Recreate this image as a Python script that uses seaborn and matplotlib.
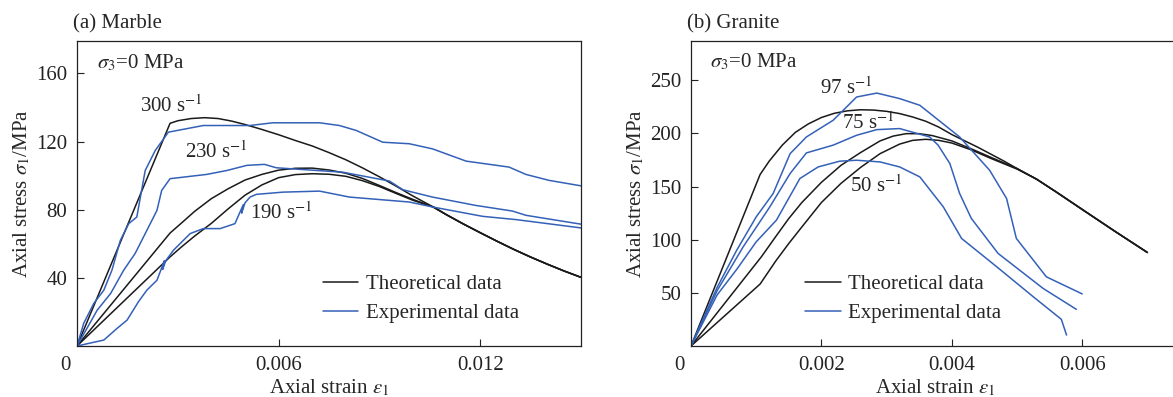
import numpy as np
import pandas as pd
import matplotlib
matplotlib.use('Agg')
import matplotlib.pyplot as plt
from matplotlib.lines import Line2D
import seaborn as sns

sns.set_theme(style='ticks')
plt.rcParams['font.family'] = ['Liberation Serif', 'DejaVu Serif']
plt.rcParams['mathtext.fontset'] = 'stix'

# (a) Marble, strain / stress (MPa)
m_t300_x = [0, 0.00277, 0.003, 0.0034, 0.0038, 0.0042, 0.0046, 0.005, 0.0055, 0.006, 0.0065, 0.007, 0.0075,
            0.008, 0.0085, 0.009, 0.0095, 0.01, 0.0106, 0.011, 0.0115, 0.012, 0.0125, 0.013, 0.0135, 0.014, 0.0145, 0.015]
m_t300_y = [0, 130.7, 132.2, 133.5, 134, 133.5, 132, 130, 127.1, 124, 120.6, 117.4, 113.5,
            109.3, 104.5, 99.3, 93.8, 88, 81.6, 77, 71.6, 66.5, 61.5, 56.7, 52.2, 48, 44, 40.3]
m_t230_x = [0, 0.00277, 0.0031, 0.0035, 0.004, 0.0045, 0.005, 0.0055, 0.006, 0.0065, 0.007, 0.0075, 0.008,
            0.0085, 0.009, 0.0095, 0.01, 0.0106, 0.011, 0.0115, 0.012, 0.0125, 0.013, 0.0135, 0.014, 0.0145, 0.015]
m_t230_y = [0, 66.3, 72, 79, 86.5, 92.3, 97.4, 100.7, 103.2, 104.3, 104.4, 103.3, 101.4,
            98.3, 94.2, 90, 86, 81.6, 77, 71.6, 66.5, 61.5, 56.7, 52.2, 48, 44, 40.3]
m_t190_x = [0, 0.00277, 0.0031, 0.0035, 0.004, 0.0045, 0.005, 0.0055, 0.006, 0.0065, 0.007, 0.0075, 0.008,
            0.0085, 0.009, 0.0095, 0.01, 0.0106, 0.011, 0.0115, 0.012, 0.0125, 0.013, 0.0135, 0.014, 0.0145, 0.015]
m_t190_y = [0, 52.3, 58, 64.5, 72, 80.5, 88.5, 94.5, 98.8, 100.6, 101.1, 100.8, 99.6,
            97, 93.6, 89.5, 85.5, 81.6, 77, 71.6, 66.5, 61.5, 56.7, 52.2, 48, 44, 40.3]

m_e300_x = [0, 0.0002, 0.0005, 0.0008, 0.00104, 0.00129, 0.00154, 0.00178, 0.00203, 0.00233, 0.00272, 0.00376,
            0.00514, 0.00583, 0.00722, 0.00781, 0.00831, 0.0091, 0.00989, 0.01058, 0.01158, 0.01286, 0.01336, 0.01405, 0.015]
m_e300_y = [0, 13.3, 25, 32.8, 44.5, 62, 71.8, 75.7, 103, 114.8, 125.5, 129.4,
            129.4, 131, 131, 129.4, 126.5, 119.6, 118.7, 115.7, 108.5, 105, 100.7, 97.2, 94]
m_e230_x = [0, 0.0006, 0.001, 0.00139, 0.00173, 0.00208, 0.00238, 0.00252, 0.00277, 0.00386, 0.00446, 0.00505,
            0.00558, 0.00593, 0.00791, 0.0093, 0.0097, 0.01058, 0.01187, 0.01296, 0.01336, 0.015]
m_e230_y = [0, 21, 30.8, 44.5, 54.3, 67.9, 79.6, 91.3, 98.2, 100.7, 103, 106,
            106.6, 104.6, 102, 96.8, 91.7, 87.4, 82.5, 79.2, 76.7, 71.5]
m_e190_x = [0, 0.0008, 0.00119, 0.00149, 0.00183, 0.00208, 0.00238, 0.0026, 0.00255, 0.00264, 0.00287, 0.00337,
            0.00376, 0.00426, 0.0047, 0.00495, 0.0049, 0.005, 0.00515, 0.00534, 0.00613, 0.00722, 0.00811,
            0.00989, 0.01058, 0.01207, 0.01306, 0.015]
m_e190_y = [0, 3.5, 10.3, 15.2, 26, 32.8, 38.6, 50, 45, 50, 56.2, 66,
            68.9, 68.9, 71.8, 83, 78, 84, 87.4, 89, 90.3, 90.9, 87.4,
            84.5, 81.6, 76.1, 74.2, 69.3]

# (b) Granite
g_t97_x = [0, 0.00106, 0.0012, 0.0014, 0.0016, 0.0018, 0.002, 0.0022, 0.0024, 0.0026, 0.0028, 0.003, 0.0032,
           0.0034, 0.0036, 0.0038, 0.004, 0.0042, 0.0044, 0.0046, 0.0048, 0.005, 0.0053, 0.0056, 0.006, 0.0065, 0.007]
g_t97_y = [0, 161.4, 174, 189, 201, 209, 215, 219, 221.3, 222.3, 222, 220.8, 218.7,
           215.5, 211.5, 206, 199, 193, 187, 180.5, 174, 167, 157, 145, 128.5, 108, 88]
g_t75_x = [0, 0.00108, 0.0013, 0.0015, 0.0017, 0.002, 0.0023, 0.0026, 0.0029, 0.0031, 0.0033, 0.0035, 0.0037,
           0.004, 0.0043, 0.0046, 0.005, 0.0053, 0.0056, 0.006, 0.0065, 0.007]
g_t75_y = [0, 84, 103, 120, 135, 154, 170, 182, 193, 197.5, 199.8, 199.8, 198,
           193, 185.5, 177.5, 167, 157, 145, 128.5, 108, 88]
g_t50_x = [0, 0.00106, 0.0013, 0.0015, 0.0017, 0.002, 0.0023, 0.0026, 0.0029, 0.0032, 0.0034, 0.0036, 0.0038,
           0.004, 0.0043, 0.0046, 0.005, 0.0053, 0.0056, 0.006, 0.0065, 0.007]
g_t50_y = [0, 58.3, 80, 96.5, 112, 135, 153, 168, 181, 190, 193.5, 194.5, 193.5,
           191, 184.5, 176.5, 166.5, 157, 145, 128.5, 108, 88]

g_e97_x = [0, 0.0004, 0.0007, 0.001, 0.00126, 0.00152, 0.00177, 0.00218, 0.00254, 0.00285, 0.0032, 0.00351,
           0.00412, 0.00458, 0.00484, 0.00499, 0.00545, 0.006]
g_e97_y = [0, 55, 90, 121.5, 143.5, 181, 196.7, 212.4, 234.3, 238, 232.8, 226.5,
           196.7, 165.4, 138.8, 101.2, 65.1, 49]
g_e75_x = [0, 0.0004, 0.0008, 0.00121, 0.00152, 0.00177, 0.00218, 0.00254, 0.00285, 0.0032, 0.00366, 0.00379,
           0.00397, 0.00412, 0.0043, 0.00471, 0.0054, 0.00591]
g_e75_y = [0, 52, 93.3, 131, 162.3, 181.7, 189, 198.3, 203.6, 204.6, 196.7, 189,
           171.7, 143.5, 120, 87.1, 54.2, 34.5]
g_e50_x = [0, 0.0004, 0.0007, 0.001, 0.00131, 0.00167, 0.00195, 0.00228, 0.00254, 0.0029, 0.0032, 0.00351,
           0.00387, 0.00415, 0.00469, 0.00525, 0.00568, 0.00576]
g_e50_y = [0, 48, 72, 98, 118.4, 157.6, 168.5, 173.9, 174.8, 173.2, 168.5, 159.1,
           130.9, 101.2, 74.5, 46.3, 25.1, 10.3]

BLACK = '#1a1a1a'
BLUE = '#3461b8'


def make_df(curves):
    parts = []
    for name, kind, xs, ys in curves:
        parts.append(pd.DataFrame({'strain': xs, 'stress': ys, 'curve': name, 'kind': kind}))
    return pd.concat(parts, ignore_index=True)


marble = make_df([
    ('t300', 'Theoretical data', m_t300_x, m_t300_y),
    ('t230', 'Theoretical data', m_t230_x, m_t230_y),
    ('t190', 'Theoretical data', m_t190_x, m_t190_y),
    ('e300', 'Experimental data', m_e300_x, m_e300_y),
    ('e230', 'Experimental data', m_e230_x, m_e230_y),
    ('e190', 'Experimental data', m_e190_x, m_e190_y),
])
granite = make_df([
    ('t97', 'Theoretical data', g_t97_x, g_t97_y),
    ('t75', 'Theoretical data', g_t75_x, g_t75_y),
    ('t50', 'Theoretical data', g_t50_x, g_t50_y),
    ('e97', 'Experimental data', g_e97_x, g_e97_y),
    ('e75', 'Experimental data', g_e75_x, g_e75_y),
    ('e50', 'Experimental data', g_e50_x, g_e50_y),
])

fig = plt.figure(figsize=(11.73, 3.97), dpi=100)
W, H = 1173.0, 397.0
ax1 = fig.add_axes([77 / W, 51 / H, 504 / W, 305 / H])
ax2 = fig.add_axes([691 / W, 51 / H, 489 / W, 305 / H])

FS = 15
pal = {'Theoretical data': BLACK, 'Experimental data': BLUE}


def draw(ax, df, xlim, ylim, xticks, yticks, title, labels):
    sns.lineplot(data=df, x='strain', y='stress', hue='kind', units='curve', estimator=None,
                 sort=False, palette=pal, linewidth=1.1, legend=False, ax=ax)
    ax.set_xlim(*xlim)
    ax.set_ylim(*ylim)
    ax.set_xticks(xticks)
    ax.set_xticklabels(['%.3f' % v for v in xticks])
    ax.set_yticks(yticks)
    ax.set_yticklabels(['%d' % v for v in yticks])
    ax.tick_params(direction='in', length=5, width=0.8, labelsize=FS, pad=7, colors='#222222')
    for s in ax.spines.values():
        s.set_linewidth(0.9)
        s.set_color('#222222')
    ax.set_xlabel(r'Axial strain $\varepsilon_1$', fontsize=FS, labelpad=2)
    ax.set_ylabel(r'Axial stress $\sigma_1$/MPa', fontsize=FS, labelpad=3)
    ax.set_title(title, loc='left', fontsize=FS, pad=9, x=-0.008)
    ax.annotate('0', xy=(0, 0), xycoords='axes fraction', xytext=(-12, -20),
                textcoords='offset pixels', ha='center', va='center', fontsize=FS)
    for x, y, txt in labels:
        ax.text(x, y, txt, fontsize=FS, ha='left', va='center')
    handles = [Line2D([], [], color=BLACK, lw=1.1), Line2D([], [], color=BLUE, lw=1.1)]
    ax.legend(handles, ['Theoretical data', 'Experimental data'], frameon=False, fontsize=FS,
              handlelength=1.7, handletextpad=0.35, labelspacing=0.45, borderpad=0, borderaxespad=0,
              loc='upper left', bbox_to_anchor=(0.488, 0.235))


draw(ax1, marble, (0, 0.015), (0, 179), [0.006, 0.012], [40, 80, 120, 160], '(a) Marble',
     [(0.0006, 166, r'$\sigma_3$=0 MPa'), (0.00187, 140.5, r'300 s$^{-1}$'),
      (0.0032, 113.6, r'230 s$^{-1}$'), (0.00514, 78, r'190 s$^{-1}$')])
draw(ax2, granite, (0, 0.0075), (0, 287), [0.002, 0.004, 0.006], [50, 100, 150, 200, 250], '(b) Granite',
     [(0.00029, 267, r'$\sigma_3$=0 MPa'), (0.00198, 242.5, r'97 s$^{-1}$'),
      (0.00231, 209.6, r'75 s$^{-1}$'), (0.00244, 150.4, r'50 s$^{-1}$')])
ax2.get_legend().set_bbox_to_anchor((0.234, 0.235))

fig.savefig('out.png', dpi=100, facecolor='white')
